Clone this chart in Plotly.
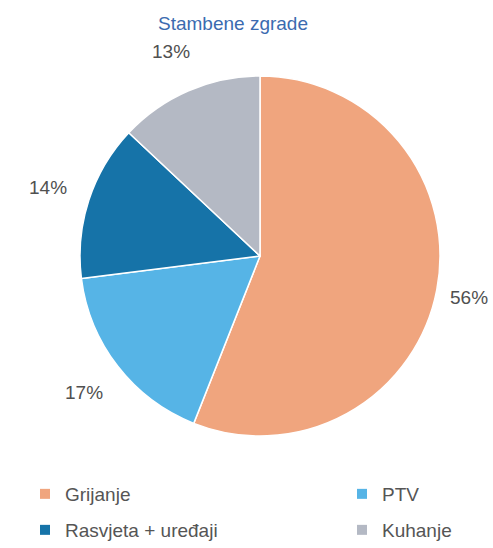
import math
import plotly.graph_objects as go

categories = ["Grijanje", "PTV", "Rasvjeta + uređaji", "Kuhanje"]
values = [56, 17, 14, 13]
colors = ["#F0A57E", "#56B4E6", "#1673A8", "#B4B9C4"]
title_text = "Stambene zgrade"

W, H = 493, 548
cx, cy, r = 260, 256, 180
label_r = r + 43
FONT = "Liberation Sans, Arial"

fig = go.Figure()
fig.add_trace(go.Pie(
    labels=categories,
    values=values,
    sort=False,
    direction="clockwise",
    rotation=0,
    marker=dict(colors=colors, line=dict(color="white", width=1.5)),
    textinfo="none",
    hoverinfo="label+percent",
    showlegend=False,
    domain=dict(x=[(cx - r) / W, (cx + r) / W], y=[1 - (cy + r) / H, 1 - (cy - r) / H]),
))

# legend grid: 2 columns x 2 rows, one legend per entry
col_x = [25, 342]
row_y = [475, 511]
legend_ids = ["legend", "legend2", "legend3", "legend4"]
layout_legends = {}
for i, (cat, col) in enumerate(zip(categories, colors)):
    lid = legend_ids[i]
    fig.add_trace(go.Scatter(
        x=[None], y=[None], mode="markers", name=cat,
        marker=dict(symbol="square", size=10, color=col),
        legend=lid, hoverinfo="skip",
    ))
    layout_legends[lid] = dict(
        x=col_x[i % 2] / W, xanchor="left", y=1 - row_y[i // 2] / H, yanchor="top",
        font=dict(family=FONT, size=19, color="#555555"),
        bgcolor="rgba(0,0,0,0)",
    )

total = sum(values)
cum = 0
annotations = []
for v in values:
    mid = (cum + v / 2) / total * 2 * math.pi
    cum += v
    px = cx + label_r * math.sin(mid)
    py = cy - label_r * math.cos(mid)
    px = min(max(px, 24), W - 24)  # keep label inside the figure
    annotations.append(dict(
        x=px / W, y=1 - py / H, xref="paper", yref="paper",
        text=f"{round(v / total * 100)}%", showarrow=False,
        font=dict(family=FONT, size=19, color="#505050"),
        xanchor="center", yanchor="middle",
    ))

fig.update_layout(
    width=W, height=H,
    margin=dict(l=0, r=0, t=0, b=0, pad=0, autoexpand=False),
    paper_bgcolor="white", plot_bgcolor="white",
    xaxis=dict(visible=False), yaxis=dict(visible=False),
    title=dict(text=title_text, x=233 / W, xanchor="center", y=1 - 23 / H, yanchor="middle",
               font=dict(family=FONT, size=19, color="#3B6BB0")),
    annotations=annotations,
    **layout_legends,
)

fig.write_html("out.html", config={"displayModeBar": False},
               post_script="document.body.style.margin='0px';document.body.style.overflow='hidden';")
